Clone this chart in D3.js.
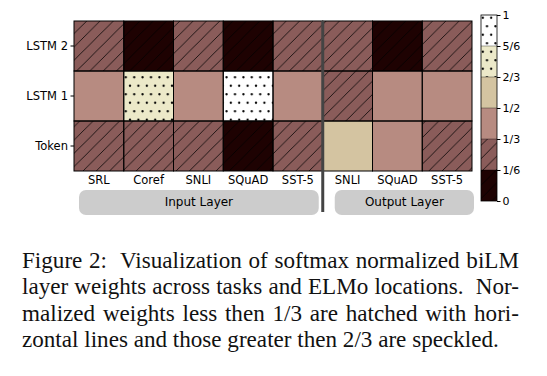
<!DOCTYPE html>
<html>
  <head>
    <meta charset="UTF-8" />
    <style>
      body { margin: 0; background: #fff; }
      text { font-family: "DejaVu Sans", sans-serif; }
      text.cap { font-family: "Liberation Serif", "Times New Roman", serif; }
    </style>
  </head>
  <body>
    <script src="https://cdn.jsdelivr.net/npm/d3@7/dist/d3.min.js"></script>
    <script>
      // task columns (first five: input layer, last three: output layer)
      var tasks = ["SRL", "Coref", "SNLI", "SQuAD", "SST-5", "SNLI", "SQuAD", "SST-5"];
      var layers = ["LSTM 2", "LSTM 1", "Token"];

      // softmax normalized weights
      var lstm2 = [0.28, 0.08, 0.28, 0.04, 0.30, 0.22, 0.10, 0.30];
      var lstm1 = [0.42, 0.72, 0.45, 0.92, 0.40, 0.24, 0.45, 0.40];
      var token = [0.30, 0.20, 0.27, 0.04, 0.30, 0.54, 0.45, 0.30];

      var binColors = ["#1e0202", "#8a5c5a", "#b78b81", "#d4c4a1", "#ece9c9", "#ffffff"];
      var cbTicks = [0, 1/6, 1/3, 1/2, 2/3, 5/6, 1];
      var cbLabels = ["0", "1/6", "1/3", "1/2", "2/3", "5/6", "1"];

      var captionLines = [
        "Figure 2:  Visualization of softmax normalized biLM",
        "layer weights across tasks and ELMo locations.  Nor-",
        "malized weights less then 1/3 are hatched with hori-",
        "zontal lines and those greater then 2/3 are speckled."
      ];

      var rows = [lstm2, lstm1, token];
      var cells = [];
      rows.forEach(function(r, i) {
        r.forEach(function(v, j) {
          cells.push({ row: i, col: j, v: v });
        });
      });

      var svg = d3.select("body").append("svg")
        .attr("width", 547)
        .attr("height", 376);

      var defs = svg.append("defs");

      // diagonal hatch
      var hs = 13.3;
      var hatch = defs.append("pattern")
        .attr("id", "hatch")
        .attr("patternUnits", "userSpaceOnUse")
        .attr("x", 1.3).attr("y", 0)
        .attr("width", hs).attr("height", hs);
      [[-hs, hs, 0, 0], [0, hs, hs, 0], [hs, hs, 2 * hs, 0]].forEach(function(l) {
        hatch.append("line")
          .attr("x1", l[0]).attr("y1", l[1]).attr("x2", l[2]).attr("y2", l[3])
          .attr("stroke", "#000").attr("stroke-opacity", 0.85).attr("stroke-width", 0.9);
      });

      // staggered dots
      var dw = 8.4, dh = 17;
      var dots = defs.append("pattern")
        .attr("id", "dots")
        .attr("patternUnits", "userSpaceOnUse")
        .attr("x", 121.6).attr("y", 73.05)
        .attr("width", dw).attr("height", dh);
      [[dw / 2, dh / 4], [0, 3 * dh / 4], [dw, 3 * dh / 4]].forEach(function(p) {
        dots.append("circle").attr("cx", p[0]).attr("cy", p[1]).attr("r", 1.15).attr("fill", "#000");
      });

      var x = d3.scaleBand().domain(d3.range(tasks.length)).range([74, 472]);
      var y = d3.scaleBand().domain(layers).range([21, 171]);
      var color = d3.scaleQuantize().domain([0, 1]).range(binColors);
      function bin(v) { return Math.min(5, Math.floor(v * 6)); }

      var g = svg.append("g");

      g.selectAll("rect.cell")
        .data(cells)
        .enter()
        .append("rect")
        .attr("class", "cell")
        .attr("x", function(d) { return x(d.col); })
        .attr("y", function(d) { return y(layers[d.row]); })
        .attr("width", x.bandwidth())
        .attr("height", y.bandwidth())
        .attr("fill", function(d) { return color(d.v); });

      g.selectAll("rect.pat")
        .data(cells.filter(function(d) { return bin(d.v) <= 1 || bin(d.v) >= 4; }))
        .enter()
        .append("rect")
        .attr("class", "pat")
        .attr("x", function(d) { return x(d.col); })
        .attr("y", function(d) { return y(layers[d.row]); })
        .attr("width", x.bandwidth())
        .attr("height", y.bandwidth())
        .attr("fill", function(d) { return bin(d.v) <= 1 ? "url(#hatch)" : "url(#dots)"; });

      g.selectAll("rect.edge")
        .data(cells)
        .enter()
        .append("rect")
        .attr("class", "edge")
        .attr("x", function(d) { return x(d.col); })
        .attr("y", function(d) { return y(layers[d.row]); })
        .attr("width", x.bandwidth())
        .attr("height", y.bandwidth())
        .attr("fill", "none")
        .attr("stroke", "#000")
        .attr("stroke-width", 1);

      // axes
      var yAxis = svg.append("g")
        .attr("transform", "translate(74,0)")
        .call(d3.axisLeft(y).tickSize(3.5).tickPadding(2.5));
      yAxis.select(".domain").remove();
      yAxis.selectAll("text").style("font-size", "11.5px").attr("fill", "#000");

      var xAxis = svg.append("g")
        .attr("transform", "translate(0,171)")
        .call(d3.axisBottom(x).tickSize(0).tickPadding(5).tickFormat(function(i) { return tasks[i]; }));
      xAxis.select(".domain").remove();
      xAxis.selectAll("text").style("font-size", "11.5px").attr("fill", "#000");

      // divider between input and output layer columns
      svg.append("line")
        .attr("x1", x(5)).attr("x2", x(5))
        .attr("y1", 21).attr("y2", 212)
        .attr("stroke", "#444").attr("stroke-width", 3);

      // group boxes
      var groups = [
        { name: "Input Layer", x0: x(0) + 5, x1: x(5) - 4 },
        { name: "Output Layer", x0: x(5) + 12, x1: x(7) + x.bandwidth() + 2 }
      ];
      var gb = svg.selectAll("g.grp").data(groups).enter().append("g").attr("class", "grp");
      gb.append("rect")
        .attr("x", function(d) { return d.x0; })
        .attr("y", 190)
        .attr("width", function(d) { return d.x1 - d.x0; })
        .attr("height", 25)
        .attr("rx", 7).attr("ry", 7)
        .attr("fill", "#cccccc");
      gb.append("text")
        .attr("x", function(d) { return (d.x0 + d.x1) / 2; })
        .attr("y", 206)
        .attr("text-anchor", "middle")
        .style("font-size", "12px")
        .text(function(d) { return d.name; });

      // colorbar
      var cb = d3.scaleLinear().domain([0, 1]).range([201, 15]);
      var segs = d3.range(6).map(function(i) { return { lo: cbTicks[i], hi: cbTicks[i + 1], i: i }; });
      var cbg = svg.append("g");
      cbg.selectAll("rect.seg").data(segs).enter().append("rect")
        .attr("x", 481).attr("width", 16)
        .attr("y", function(d) { return cb(d.hi); })
        .attr("height", function(d) { return cb(d.lo) - cb(d.hi); })
        .attr("fill", function(d) { return binColors[d.i]; });
      cbg.selectAll("rect.segp").data(segs.filter(function(d) { return d.i <= 1 || d.i >= 4; })).enter().append("rect")
        .attr("x", 481).attr("width", 16)
        .attr("y", function(d) { return cb(d.hi); })
        .attr("height", function(d) { return cb(d.lo) - cb(d.hi); })
        .attr("fill", function(d) { return d.i <= 1 ? "url(#hatch)" : "url(#dots)"; });
      cbg.selectAll("line.sep").data(cbTicks.slice(1, 6)).enter().append("line")
        .attr("x1", 481).attr("x2", 497)
        .attr("y1", function(d) { return cb(d); }).attr("y2", function(d) { return cb(d); })
        .attr("stroke", "#000").attr("stroke-width", 0.6).attr("stroke-opacity", 0.6);
      cbg.append("rect")
        .attr("x", 481).attr("y", cb(1)).attr("width", 16).attr("height", cb(0) - cb(1))
        .attr("fill", "none").attr("stroke", "#000").attr("stroke-width", 0.8);
      var cbAxis = svg.append("g")
        .attr("transform", "translate(497,0)")
        .call(d3.axisRight(cb).tickValues(cbTicks).tickSize(3.5).tickPadding(2)
          .tickFormat(function(d, i) { return cbLabels[i]; }));
      cbAxis.select(".domain").remove();
      cbAxis.selectAll("text").style("font-size", "11px").attr("fill", "#000");

      // caption, justified
      var left = 22, right = 519;
      var cap = svg.append("g");
      var probe = cap.append("text").attr("class", "cap").style("font-size", "19px").text(captionLines[3]);
      var fs = 19 * 477 / probe.node().getComputedTextLength();
      probe.remove();
      captionLines.forEach(function(s, i) {
        var t = cap.append("text")
          .attr("class", "cap")
          .attr("x", left)
          .attr("y", 268.3 + i * 26.1)
          .attr("xml:space", "preserve")
          .style("font-size", fs + "px")
          .attr("fill", "#111")
          .text(s);
        if (i < captionLines.length - 1) {
          var w = t.node().getComputedTextLength();
          var spaces = s.split(" ").length - 1;
          t.style("word-spacing", ((right - left - w) / spaces) + "px");
        }
      });
    </script>
  </body>
</html>
